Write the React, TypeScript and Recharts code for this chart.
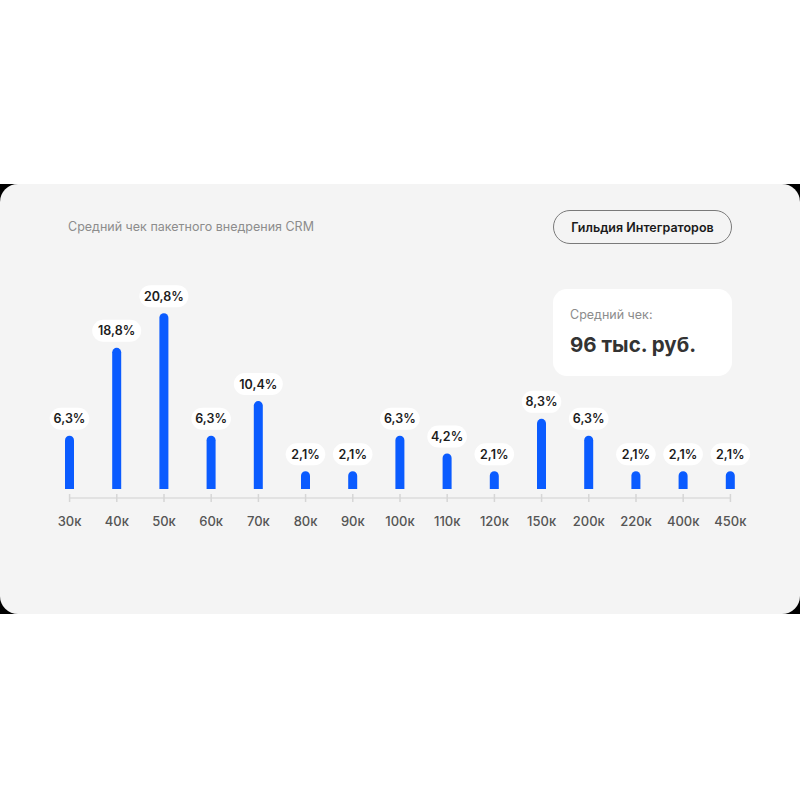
import { BarChart, Bar, XAxis, YAxis, LabelList, ReferenceLine } from 'recharts'

const categories = ['30к', '40к', '50к', '60к', '70к', '80к', '90к', '100к', '110к', '120к', '150к', '200к', '220к', '400к', '450к']
// bar lengths as drawn in the picture (the 40к bar is drawn shorter than its label)
const heights = [6.3, 16.7, 20.8, 6.3, 10.4, 2.1, 2.1, 6.3, 4.2, 2.1, 8.3, 6.3, 2.1, 2.1, 2.1]
const labels = ['6,3%', '18,8%', '20,8%', '6,3%', '10,4%', '2,1%', '2,1%', '6,3%', '4,2%', '2,1%', '8,3%', '6,3%', '2,1%', '2,1%', '2,1%']

const data = categories.map((c, i) => ({ name: c, value: heights[i], label: labels[i] }))

const FONT = 'Inter, "Noto Sans", sans-serif'

const Pill = (props: any) => {
  const { x, y, width, value } = props
  const text = String(value)
  const w = text.length * 9.4 + 2
  const cx = x + width / 2
  return (
    <g>
      <rect x={cx - w / 2} y={y - 28} width={w} height={22} rx={11} fill="#fff" />
      <text x={cx} y={y - 12.5} textAnchor="middle" fontSize={12.5} fontWeight={600} fill="#1c1c1c" fontFamily={FONT}>
        {text}
      </text>
    </g>
  )
}

const Tick = (props: any) => {
  const { x, y, payload } = props
  return (
    <g>
      <line x1={x} x2={x} y1={y - 4} y2={y + 4} stroke="#d6d6d6" strokeWidth={1.5} />
      <text x={x} y={y + 27.5} textAnchor="middle" fontSize={13} fontWeight={500} fill="#555" fontFamily={FONT}>
        {payload.value}
      </text>
    </g>
  )
}

export default function App() {
  return (
    <div style={{ position: 'absolute', top: 0, left: 0, width: 800, height: 800, background: '#fff', fontFamily: FONT }}>
      <div style={{ position: 'absolute', top: 184, left: 0, width: 800, height: 430, background: '#000' }} />
      <div style={{ position: 'absolute', top: 184, left: 0, width: 800, height: 430, background: '#f4f4f4', borderRadius: 18 }} />
      <div style={{ position: 'absolute', top: 219, left: 68, fontSize: 12.5, color: '#8c8c8c' }}>
        Средний чек пакетного внедрения CRM
      </div>
      <div
        style={{
          position: 'absolute', top: 210, left: 553, width: 177, height: 32, border: '1px solid #7a7a7a',
          borderRadius: 17, display: 'flex', alignItems: 'center', justifyContent: 'center',
          fontSize: 12.5, fontWeight: 600, color: '#1a1a1a',
        }}
      >
        Гильдия Интеграторов
      </div>
      <div style={{ position: 'absolute', top: 289, left: 553, width: 179, height: 87, background: '#fff', borderRadius: 14 }}>
        <div style={{ position: 'absolute', top: 18, left: 17, fontSize: 12.5, color: '#8c8c8c' }}>Средний чек:</div>
        <div style={{ position: 'absolute', top: 43, left: 17, fontSize: 20.5, fontWeight: 700, color: '#333' }}>96 тыс. руб.</div>
      </div>
      <div style={{ position: 'absolute', top: 0, left: 0 }}>
        <BarChart width={800} height={800} data={data} margin={{ top: 303, right: 46, bottom: 272, left: 46 }} barCategoryGap={0}>
          <YAxis hide domain={[-1.06, 22]} />
          <XAxis
            dataKey="name"
            axisLine={false}
            tickLine={false}
            tickSize={0}
            tickMargin={0}
            tick={<Tick />}
            height={30}
            interval={0}
          />
          <ReferenceLine
            segment={[{ x: '30к', y: -1.06 }, { x: '450к', y: -1.06 }]}
            stroke="#dcdcdc"
            strokeWidth={1.5}
            ifOverflow="visible"
          />
          <Bar dataKey="value" fill="#0a5bff" barSize={9} radius={[5, 5, 0, 0]} isAnimationActive={false}>
            <LabelList dataKey="label" content={<Pill />} />
          </Bar>
        </BarChart>
      </div>
    </div>
  )
}
